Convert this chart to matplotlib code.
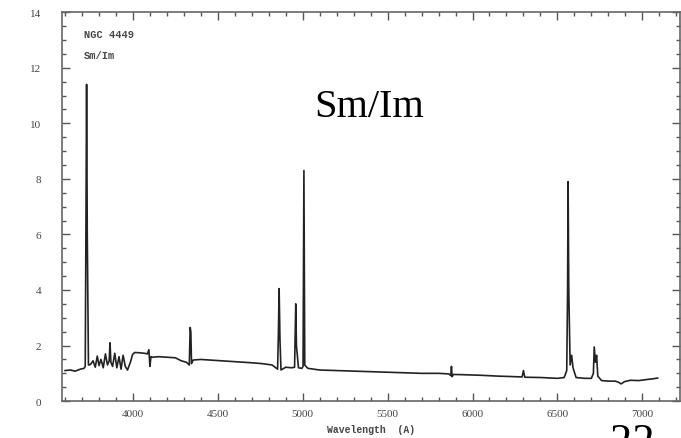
import matplotlib.pyplot as plt
from matplotlib.ticker import MultipleLocator

# spectrum of NGC 4449 (wavelength in A, relative flux)
wavelength = [3600, 3630, 3660, 3690, 3712, 3719, 3723, 3727, 3731, 3738,
              3750, 3765, 3778, 3790, 3800, 3812, 3825, 3838, 3850, 3860,
              3865, 3870, 3880, 3893, 3905, 3918, 3930, 3942, 3955, 3968,
              3985, 3998, 4010, 4040, 4070, 4085, 4094, 4100, 4106, 4115,
              4150, 4200, 4250, 4285, 4315, 4332, 4337, 4341, 4345, 4355,
              4400, 4500, 4600, 4700, 4760, 4820, 4852, 4857, 4861, 4866,
              4872, 4900, 4935, 4952, 4955, 4959, 4963, 4975, 4995, 5002,
              5007, 5012, 5030, 5100, 5200, 5300, 5400, 5500, 5600, 5700,
              5800, 5860, 5872, 5876, 5880, 5888, 5950, 6050, 6150, 6250,
              6292, 6300, 6308, 6400, 6500, 6540, 6555, 6560, 6563, 6567,
              6575, 6584, 6592, 6610, 6660, 6700, 6712, 6717, 6724, 6731,
              6738, 6760, 6800, 6840, 6860, 6875, 6895, 6930, 6980, 7030,
              7060, 7090]
flux = [1.10, 1.12, 1.08, 1.15, 1.18, 1.25, 6.0, 11.4, 6.0, 1.30,
        1.32, 1.45, 1.22, 1.62, 1.28, 1.50, 1.20, 1.70, 1.30, 1.45,
        2.10, 1.40, 1.25, 1.72, 1.20, 1.60, 1.15, 1.65, 1.25, 1.12,
        1.40, 1.68, 1.75, 1.74, 1.72, 1.70, 1.85, 1.25, 1.60, 1.58,
        1.60, 1.58, 1.56, 1.45, 1.40, 1.30, 2.65, 2.50, 1.35, 1.48,
        1.50, 1.46, 1.42, 1.38, 1.35, 1.30, 1.15, 2.5, 4.05, 2.2,
        1.12, 1.22, 1.20, 1.22, 2.2, 3.50, 2.0, 1.20, 1.18, 1.25,
        8.30, 1.30, 1.18, 1.12, 1.10, 1.08, 1.06, 1.04, 1.02, 1.00,
        1.00, 0.98, 0.92, 1.25, 0.88, 0.96, 0.95, 0.93, 0.90, 0.88,
        0.87, 1.10, 0.86, 0.85, 0.82, 0.85, 1.10, 4.0, 7.90, 4.0,
        1.30, 1.65, 1.20, 0.85, 0.82, 0.82, 1.00, 1.95, 1.40, 1.65,
        0.90, 0.74, 0.72, 0.72, 0.68, 0.62, 0.70, 0.75, 0.74, 0.78,
        0.80, 0.83]

x_ticks = [4000, 4500, 5000, 5500, 6000, 6500, 7000]
y_ticks = [0, 2, 4, 6, 8, 10, 12, 14]
galaxy = "NGC 4449"
morph = "Sm/Im"

fig = plt.figure(figsize=(6.81, 4.39), dpi=100)
ax = fig.add_axes([0.091, 0.084, 0.908, 0.886])

ax.plot(wavelength, flux, color='#222222', lw=1.2)

ax.set_xlim(3582, 7224)
ax.set_ylim(0, 14)
ax.set_xticks(x_ticks)
ax.set_yticks(y_ticks)
ax.xaxis.set_minor_locator(MultipleLocator(100))
ax.yaxis.set_minor_locator(MultipleLocator(0.5))
ax.tick_params(which='both', direction='in', top=True, right=True,
               color='#555555', width=1.0)
ax.tick_params(which='major', length=6)
ax.tick_params(which='minor', length=3)
ax.tick_params(axis='x', pad=6, labelsize=8, labelcolor='#444444')
ax.tick_params(axis='y', pad=15, labelsize=8, labelcolor='#444444')
for lab in ax.get_xticklabels() + ax.get_yticklabels():
    lab.set_family('Liberation Serif')
for s in ax.spines.values():
    s.set_color('#666666')
    s.set_linewidth(1.2)

ax.set_xlabel("Wavelength  (A)", family='Liberation Mono', fontsize=7,
              fontweight='bold', color='#444444', labelpad=4)

ax.text(0.035, 0.945, galaxy, transform=ax.transAxes, family='Liberation Mono',
        fontsize=7.5, fontweight='bold', color='#444444', va='center')
ax.text(0.035, 0.89, morph, transform=ax.transAxes, family='Liberation Mono',
        fontsize=7.5, fontweight='bold', color='#444444', va='center')

# slide annotations
fig.text(369 / 681, 1 - 117 / 439, morph, family='Liberation Serif',
         fontsize=29, ha='center', va='baseline')
fig.text(610 / 681, 1 - 454 / 439, "22", family='Liberation Serif',
         fontsize=32, ha='left', va='baseline')

fig.savefig("out.png", dpi=100)
